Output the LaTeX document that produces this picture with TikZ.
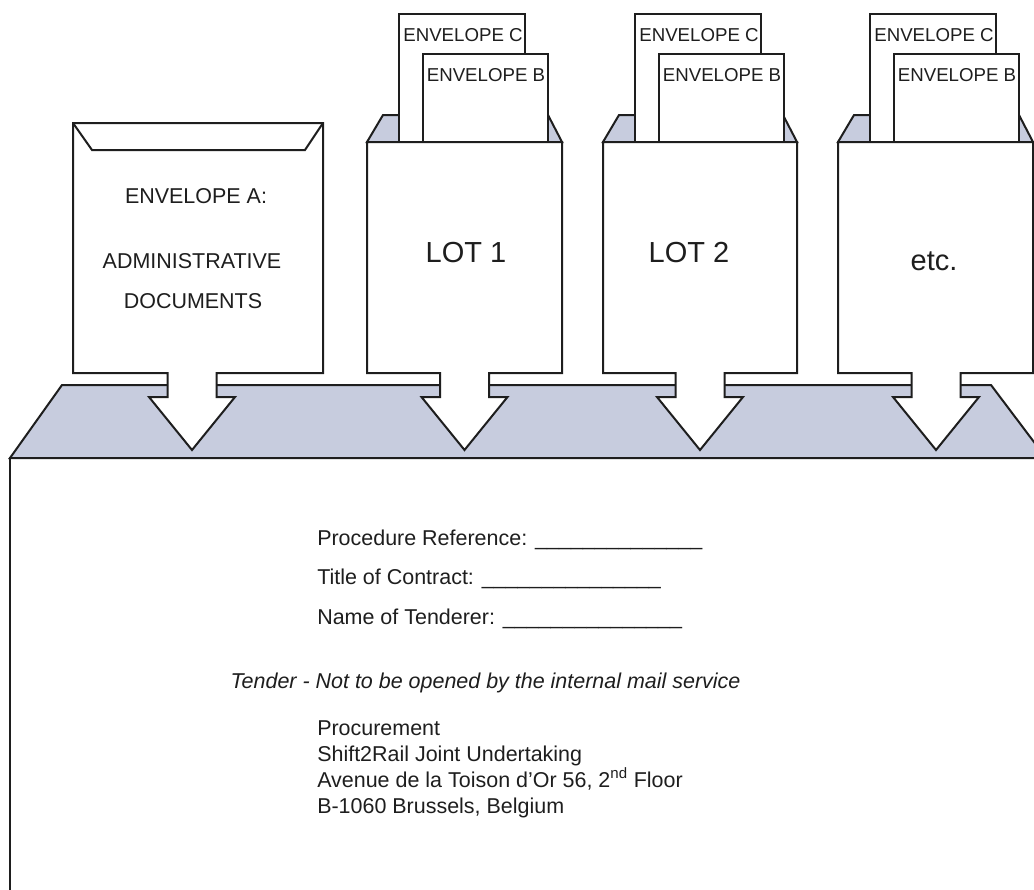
\documentclass[tikz,border=0pt]{standalone}
\usepackage{fontspec}
\setmainfont{Liberation Sans}
\definecolor{bandgrey}{RGB}{199,204,222}
\definecolor{inkline}{RGB}{30,30,30}

% one lot pocket: #1 left edge, #2 right edge, #3 centre, #4 label, #5 name
\newcommand\lotpocket[5]{%
  \filldraw[outline, fill=bandgrey] (#1,142) -- ({#1+16},115) -- ({#2-14},115) -- (#2,142) -- cycle;
  \filldraw[outline, fill=white] ({#1+32},14) rectangle ({#1+158},142);
  \node[smalltext, anchor=base] (envC-#5) at ({#1+96},41) {ENVELOPE C};
  \filldraw[outline, fill=white] ({#1+56},54) rectangle ({#1+181},142);
  \node[smalltext, anchor=base] (envB-#5) at ({#1+119},81) {ENVELOPE B};
  \filldraw[outline, fill=white] (#1,142) -- (#2,142) -- (#2,373)
    -- ({#3+24.5},373) -- ({#3+24.5},397) -- ({#3+43},397) -- (#3,450)
    -- ({#3-43},397) -- ({#3-24.5},397) -- ({#3-24.5},373) -- (#1,373) -- cycle;
}

\begin{document}
\begin{tikzpicture}[x=0.75pt, y=-0.75pt,
  outline/.style={draw=inkline, line width=1.5pt, line join=miter},
  bodytext/.style={inner sep=0pt, font=\fontsize{16.1pt}{19pt}\selectfont, text=inkline},
  smalltext/.style={inner sep=0pt, font=\fontsize{14pt}{16pt}\selectfont, text=inkline},
  lottext/.style={inner sep=0pt, font=\fontsize{21.75pt}{25pt}\selectfont, text=inkline}]
\useasboundingbox (0,0) rectangle (1034,889);
\begin{scope}
\clip (0,0) rectangle (1034,889);

% outer envelope body
\filldraw[outline, fill=white] (10,920) -- (10,458) -- (1060,458);

% grey flap band
\filldraw[outline, fill=bandgrey] (10,458) -- (62,385) -- (991,385) -- (1046,458) -- cycle;

% envelope A with its arrow
\filldraw[outline, fill=white] (73,123) -- (323,123) -- (323,373)
  -- (216.5,373) -- (216.5,397) -- (235,397) -- (192,450)
  -- (149,397) -- (167.5,397) -- (167.5,373) -- (73,373) -- cycle;
\draw[outline] (73,123) -- (92,150) -- (305,150) -- (323,123);
\node[bodytext, anchor=base] (envA1) at (196,203) {ENVELOPE A:};
\node[bodytext, anchor=base] (envA2) at (192,268) {ADMINISTRATIVE};
\node[bodytext, anchor=base] (envA3) at (193,308) {DOCUMENTS};

% lot pockets
\lotpocket{367}{562}{464.5}{LOT 1}{one}
\node[lottext, anchor=base] (lot1) at (466,262) {LOT 1};
\lotpocket{603}{797}{700}{LOT 2}{two}
\node[lottext, anchor=base] (lot2) at (689,262) {LOT 2};
\lotpocket{838}{1033}{936}{etc.}{three}
\node[lottext, anchor=base] (lotetc) at (934,270) {etc.};
\end{scope}

% address label
\node[bodytext, anchor=base west] (ref) at (317,545) {Procedure Reference: \_\_\_\_\_\_\_\_\_\_\_\_\_\_};
\node[bodytext, anchor=base west] (title) at (317,584) {Title of Contract: \_\_\_\_\_\_\_\_\_\_\_\_\_\_\_};
\node[bodytext, anchor=base west] (tenderer) at (317,624) {Name of Tenderer: \_\_\_\_\_\_\_\_\_\_\_\_\_\_\_};
\node[bodytext, anchor=base, font=\fontsize{16.1pt}{19pt}\selectfont\itshape] (notice) at (485.5,688) {Tender - Not to be opened by the internal mail service};
\node[bodytext, anchor=base west] (addr1) at (317,735) {Procurement};
\node[bodytext, anchor=base west] (addr2) at (317,761) {Shift2Rail Joint Undertaking};
\node[bodytext, anchor=base west] (addr3) at (317,787) {Avenue de la Toison d’Or 56, 2\textsuperscript{nd} Floor};
\node[bodytext, anchor=base west] (addr4) at (317,813) {B-1060 Brussels, Belgium};
\end{tikzpicture}
\end{document}
